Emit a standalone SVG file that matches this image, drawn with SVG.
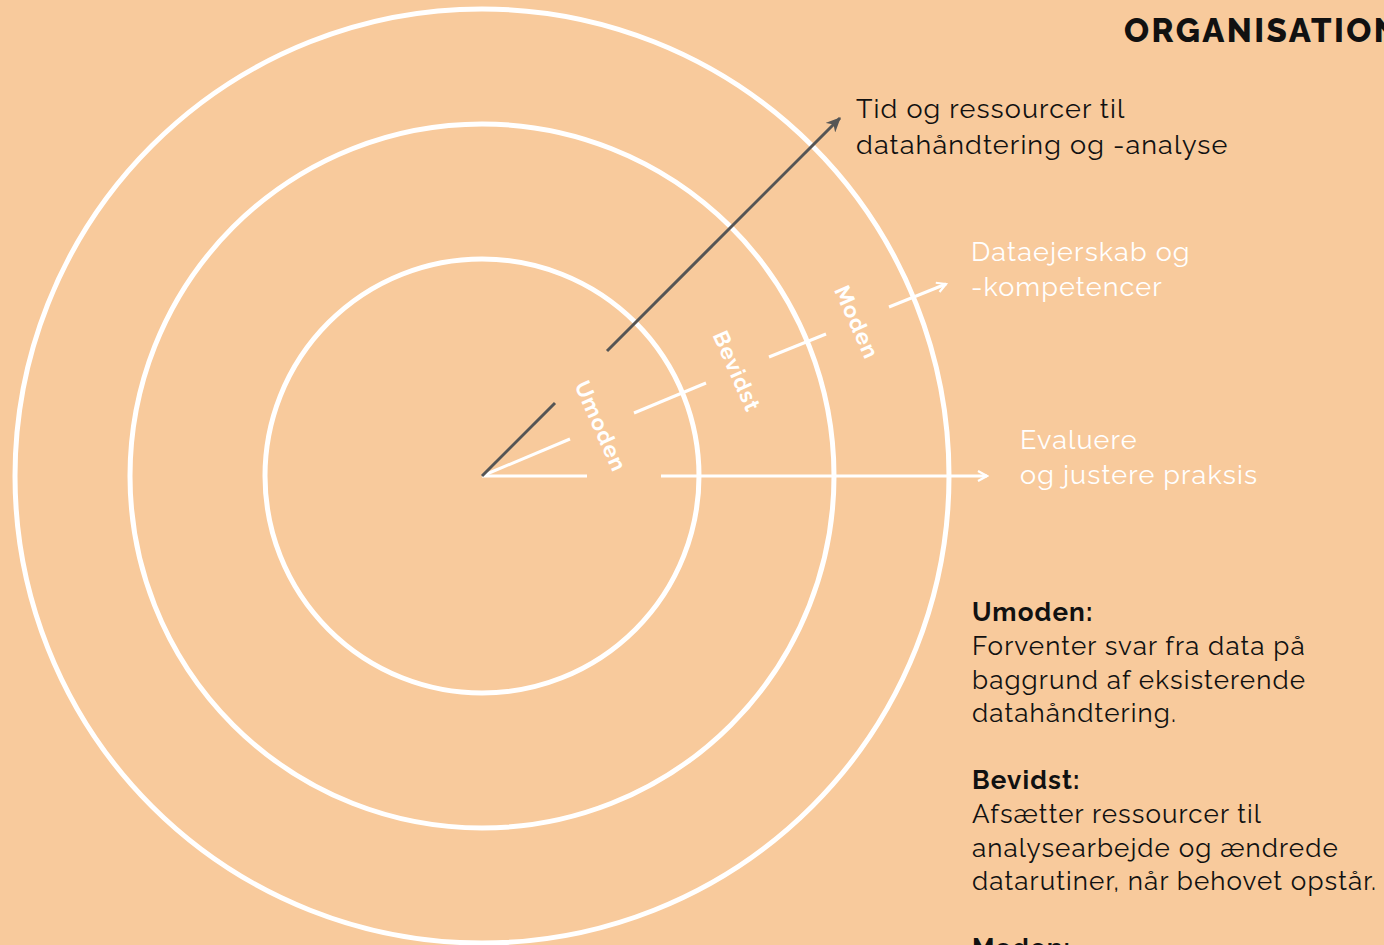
<svg xmlns="http://www.w3.org/2000/svg" width="1384" height="945" viewBox="0 0 1384 945">
<defs>
<style>
.ring{fill:none;stroke:#fff;stroke-width:5}
.wl{stroke:#fff;stroke-width:3;fill:none}
.dl{stroke:#555;stroke-width:3;fill:none}
.t{font-family:"Raleway","Lato","Open Sans",sans-serif;font-size:27px;letter-spacing:1.1px}
.lg{font-size:26px;letter-spacing:1.1px}
.blk{fill:#111}
.wht{fill:#fff}
.lbl{font-family:"Raleway","Lato","Open Sans",sans-serif;font-size:22px;font-weight:700;letter-spacing:1px;fill:#fff}
.b{font-weight:700}
</style>
<marker id="wa" viewBox="0 0 12 12" refX="10" refY="6" markerWidth="12" markerHeight="12" markerUnits="userSpaceOnUse" orient="auto">
<path d="M1,1 L10,6 L1,11" fill="none" stroke="#fff" stroke-width="2.2"/>
</marker>
<marker id="da" viewBox="0 0 14 12" refX="12" refY="6" markerWidth="16" markerHeight="14" markerUnits="userSpaceOnUse" orient="auto">
<path d="M0,0 L13,6 L0,12 L4,6 Z" fill="#555"/>
</marker>
</defs>
<rect width="1384" height="945" fill="#F8CA9C"/>
<g id="rings">
<circle class="ring" cx="482" cy="476" r="467"/>
<circle class="ring" cx="482" cy="476" r="352"/>
<circle class="ring" cx="482" cy="476" r="217"/>
</g>
<g id="connectors">
<line class="wl" x1="482" y1="476" x2="587" y2="476"/>
<line class="wl" x1="661" y1="476" x2="987" y2="476" marker-end="url(#wa)"/>
<line class="wl" x1="482" y1="476" x2="570" y2="439"/>
<line class="wl" x1="634" y1="413" x2="706" y2="383"/>
<line class="wl" x1="769" y1="357" x2="826" y2="334"/>
<line class="wl" x1="889" y1="307" x2="946" y2="284" marker-end="url(#wa)"/>
<line class="dl" x1="482" y1="476" x2="555" y2="403"/>
<line class="dl" x1="607" y1="351" x2="840" y2="118" marker-end="url(#da)"/>
</g>
<g id="ring-labels">
<text class="lbl" transform="translate(601,426) rotate(66)" text-anchor="middle" dy="8">Umoden</text>
<text class="lbl" transform="translate(737,371) rotate(66)" text-anchor="middle" dy="8">Bevidst</text>
<text class="lbl" transform="translate(857,322) rotate(66)" text-anchor="middle" dy="8">Moden</text>
</g>
<g id="title">
<text class="t blk" x="1124" y="42" style="font-size:33px;font-weight:800;letter-spacing:2.4px">ORGANISATION</text>
</g>
<g id="node-tid">
<text class="t blk" x="856" y="118">Tid og ressourcer til</text>
<text class="t blk" x="856" y="154">datahåndtering og -analyse</text>
</g>
<g id="node-dataejerskab">
<text class="t wht" x="971" y="261">Dataejerskab og</text>
<text class="t wht" x="971" y="296">-kompetencer</text>
</g>
<g id="node-evaluere">
<text class="t wht" x="1020" y="449">Evaluere</text>
<text class="t wht" x="1020" y="484">og justere praksis</text>
</g>
<g id="legend">
<text class="t lg blk b" x="972" y="621">Umoden:</text>
<text class="t lg blk" x="972" y="655">Forventer svar fra data på</text>
<text class="t lg blk" x="972" y="689">baggrund af eksisterende</text>
<text class="t lg blk" x="972" y="722">datahåndtering.</text>
<text class="t lg blk b" x="972" y="789">Bevidst:</text>
<text class="t lg blk" x="972" y="823">Afsætter ressourcer til</text>
<text class="t lg blk" x="972" y="857">analysearbejde og ændrede</text>
<text class="t lg blk" x="972" y="890">datarutiner, når behovet opstår.</text>
<text class="t lg blk b" x="972" y="957">Moden:</text>
</g>
</svg>
